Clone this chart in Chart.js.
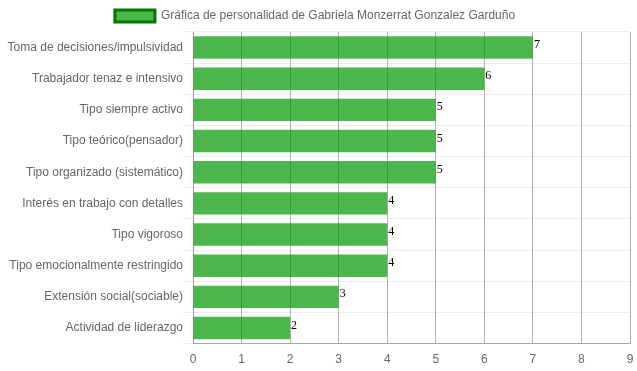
<!DOCTYPE html>
<html>
<head>
<meta charset="utf-8">
<script src="https://cdn.jsdelivr.net/npm/chart.js@4.4.0/dist/chart.umd.min.js"></script>
<style>
html,body{margin:0;padding:0;background:#fff;}
#wrap{width:637px;height:371px;}
</style>
</head>
<body>
<div id="wrap"><canvas id="c" width="637" height="371"></canvas></div>
<script>
const categories = [
  "Toma de decisiones/impulsividad",
  "Trabajador tenaz e intensivo",
  "Tipo siempre activo",
  "Tipo teórico(pensador)",
  "Tipo organizado (sistemático)",
  "Interés en trabajo con detalles",
  "Tipo vigoroso",
  "Tipo emocionalmente restringido",
  "Extensión social(sociable)",
  "Actividad de liderazgo"
];
const values = [7, 6, 5, 5, 5, 4, 4, 4, 3, 2];
const seriesLabel = "Gráfica de personalidad de Gabriela Monzerrat Gonzalez Garduño";
const xTicks = [0, 1, 2, 3, 4, 5, 6, 7, 8, 9];

const valueLabels = {
  id: 'valueLabels',
  afterDraw(chart) {
    const ctx = chart.ctx;
    const meta = chart.getDatasetMeta(0);
    ctx.save();
    ctx.font = "12px 'Liberation Serif', 'DejaVu Serif', serif";
    ctx.fillStyle = "#000";
    ctx.textAlign = "left";
    ctx.textBaseline = "alphabetic";
    meta.data.forEach((bar, i) => {
      ctx.fillText(String(values[i]), bar.x + 1, bar.y + 0.5);
    });
    ctx.restore();
  }
};

Chart.defaults.font.family = "'Liberation Sans', Arial, sans-serif";
Chart.defaults.font.size = 12;
Chart.defaults.color = "#666";

new Chart(document.getElementById('c'), {
  type: 'bar',
  data: {
    labels: categories,
    datasets: [{
      label: seriesLabel,
      data: values,
      backgroundColor: "rgba(0,153,0,0.7)",
      borderColor: "rgb(0,120,0)",
      borderWidth: 0,
      barPercentage: 0.9,
      categoryPercentage: 0.8
    }]
  },
  options: {
    indexAxis: 'y',
    responsive: false,
    animation: false,
    devicePixelRatio: 1,
    layout: { padding: { left: 0, right: 7, top: 0, bottom: 0 } },
    plugins: {
      legend: {
        display: true,
        labels: {
          boxWidth: 40,
          boxHeight: 12,
          padding: 10,
          color: "#666",
          font: { size: 12 },
          generateLabels(chart) {
            return [{
              text: seriesLabel,
              fillStyle: "rgba(0,153,0,0.7)",
              strokeStyle: "rgb(0,120,0)",
              lineWidth: 3,
              hidden: false,
              datasetIndex: 0,
              fontColor: "#666"
            }];
          }
        }
      },
      tooltip: { enabled: false }
    },
    scales: {
      x: {
        min: 0,
        max: 9,
        z: 1,
        afterBuildTicks(scale) { scale.ticks = xTicks.map(v => ({ value: v })); },
        afterFit(scale) { scale.height -= 5; scale.paddingRight = 0; },
        grid: { color: "rgba(0,0,0,0.3)", drawTicks: false },
        border: { color: "rgba(0,0,0,0.3)" },
        ticks: { color: "#666", padding: 9, font: { size: 12 } }
      },
      y: {
        afterFit(scale) { scale.width = 193; },
        grid: { color: "rgba(0,0,0,0.07)", tickLength: 10 },
        border: { color: "rgba(0,0,0,0.12)" },
        ticks: { color: "#666", padding: 0, font: { size: 12 } }
      }
    }
  },
  plugins: [valueLabels]
});
</script>
</body>
</html>
